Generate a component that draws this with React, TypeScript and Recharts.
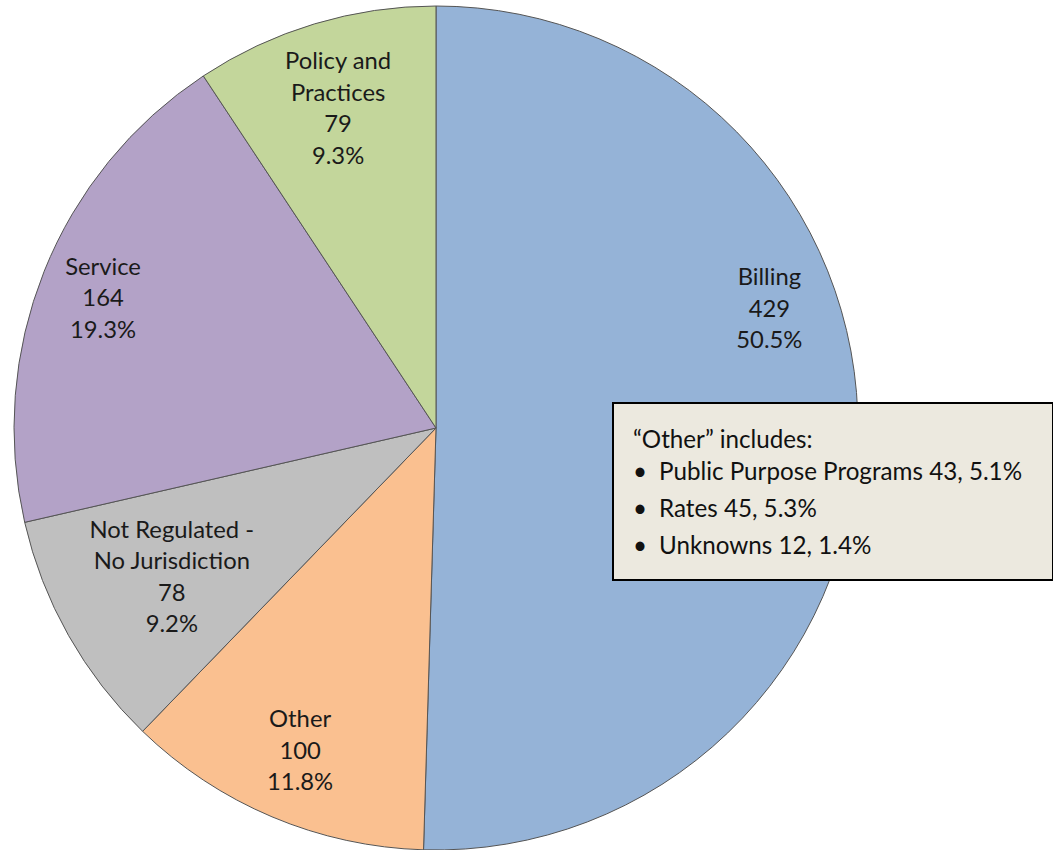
import React from 'react';
import { Cell, Pie, PieChart } from 'recharts';

const categories = ['Billing', 'Other', 'Not Regulated -\nNo Jurisdiction', 'Service', 'Policy and\nPractices'];
const counts = [429, 100, 78, 164, 79];
const colors = ['#95B3D7', '#FAC090', '#BFBFBF', '#B3A2C7', '#C3D69B'];

const otherNames = ['Public Purpose Programs', 'Rates', 'Unknowns'];
const otherCounts = [43, 45, 12];

// label block centres, as fraction of radius from the pie centre (x right, y down)
const labelOffsets = [
    [0.79, -0.285],
    [-0.322, 0.763],
    [-0.626, 0.351],
    [-0.789, -0.31],
    [-0.232, -0.76],
];

const total = counts.reduce((a, b) => a + b, 0);
const pct = (v: number) => `${((v / total) * 100).toFixed(1)}%`;

const data = categories.map((name, i) => ({ name, value: counts[i] }));

const FONT = 'Lato, Carlito, Calibri, sans-serif';
const LINE = 31.5;

const renderLabel = (props: any) => {
    const { cx, cy, outerRadius, index, name, value } = props;
    const [fx, fy] = labelOffsets[index];
    const x = cx + fx * outerRadius;
    const y = cy + fy * outerRadius;
    const lines = [...String(name).split('\n'), String(value), pct(value)];
    const startY = y - ((lines.length - 1) * LINE) / 2;
    return (
        <text x={x} y={startY} textAnchor="middle" dominantBaseline="central" fill="#1a1a1a" fontSize={23.8} fontFamily={FONT}>
            {lines.map((l, k) => (
                <tspan key={k} x={x} y={startY + k * LINE}>{l}</tspan>
            ))}
        </text>
    );
};

export default function App() {
    return (
        <div style={{ position: 'absolute', left: 0, top: 0, width: 1053, height: 850, background: '#fff' }}>
            <PieChart width={1053} height={850} margin={{ top: 0, right: 0, bottom: 0, left: 0 }}>
                <Pie
                    data={data}
                    dataKey="value"
                    nameKey="name"
                    cx={436}
                    cy={428}
                    outerRadius={422}
                    startAngle={90}
                    endAngle={-270}
                    stroke="#555"
                    strokeWidth={1}
                    label={renderLabel}
                    labelLine={false}
                    isAnimationActive={false}
                >
                    {data.map((d, i) => (
                        <Cell key={d.name} fill={colors[i]} />
                    ))}
                </Pie>
            </PieChart>
            <div
                style={{
                    position: 'absolute',
                    left: 612,
                    top: 402,
                    width: 438,
                    height: 175,
                    background: '#ECE9DF',
                    border: '2px solid #000',
                    fontFamily: FONT,
                    fontSize: 24.2,
                    color: '#111',
                    boxSizing: 'content-box',
                }}
            >
                <div style={{ position: 'absolute', left: 19, top: 20, lineHeight: '30px', whiteSpace: 'nowrap' }}>
                    “Other” includes:
                </div>
                {otherNames.map((n, i) => (
                    <div key={n} style={{ position: 'absolute', left: 19, top: 52 + i * 37, lineHeight: '30px', whiteSpace: 'nowrap' }}>
                        <span style={{ display: 'inline-block', width: 26 }}>•</span>
                        {`${n} ${otherCounts[i]}, ${pct(otherCounts[i])}`}
                    </div>
                ))}
            </div>
        </div>
    );
}
